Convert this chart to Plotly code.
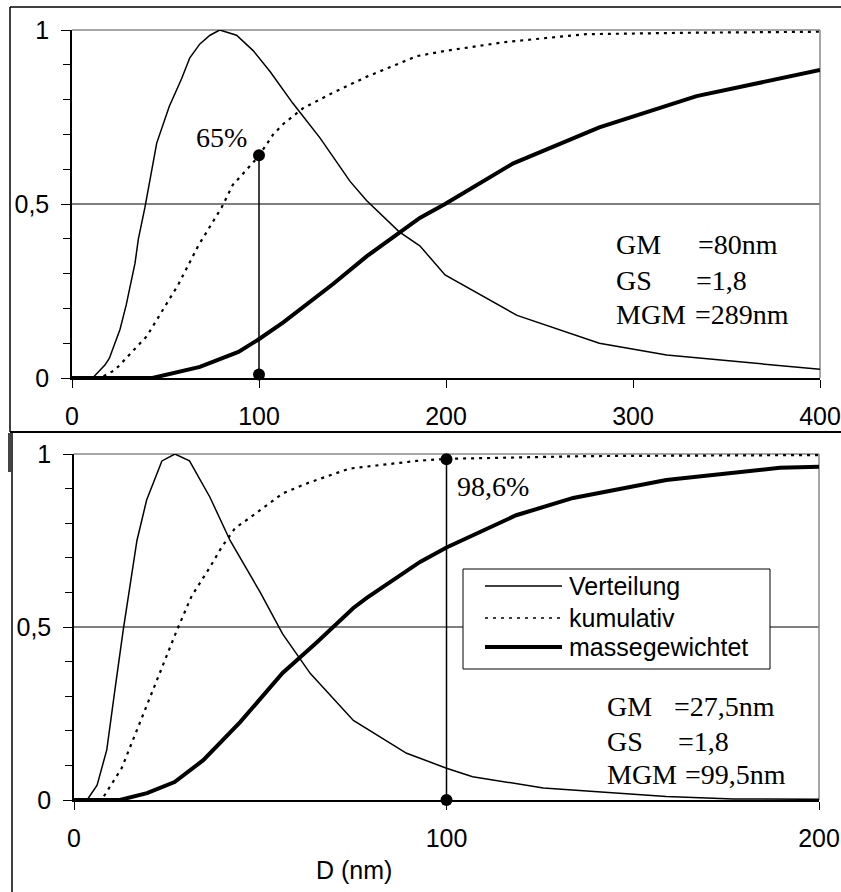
import plotly.graph_objects as go

W, H = 841, 892

# ---------------- data ----------------
# top panel: GM = 80 nm, GS = 1.8
top_vert_x = [0, 11, 17.6, 20, 25.7, 29, 33.7, 35.5, 39, 45.3, 52, 58.6, 63, 68.4, 73.8, 79,
              88, 97, 106, 118, 132.6, 148.7, 157.5, 175, 186, 199.5, 238, 282, 318, 364, 400]
top_vert_y = [0, 0, 0.037, 0.057, 0.14, 0.21, 0.33, 0.40, 0.49, 0.675, 0.78, 0.86, 0.92, 0.96, 0.985, 1.0,
              0.985, 0.94, 0.88, 0.79, 0.69, 0.565, 0.51, 0.42, 0.38, 0.296, 0.18, 0.10, 0.066, 0.042, 0.025]
top_cum_x = [0, 15, 23, 40, 57, 67.5, 80, 86, 99.5, 107.6, 113, 123.5, 139.6, 157.7, 184.5, 199.5,
             232.6, 275, 329, 400]
top_cum_y = [0, 0, 0.023, 0.12, 0.27, 0.38, 0.49, 0.555, 0.635, 0.70, 0.73, 0.775, 0.82, 0.866, 0.925, 0.94,
             0.966, 0.988, 0.992, 0.995]
top_mass_x = [0, 43, 68.4, 89, 99.5, 113, 139.6, 157.7, 186, 199.5, 236, 282, 334, 400]
top_mass_y = [0, 0, 0.032, 0.075, 0.11, 0.16, 0.27, 0.35, 0.46, 0.50, 0.617, 0.72, 0.81, 0.885]
top_marker_x = [100, 100]
top_marker_y = [0.01, 0.64]

# bottom panel: GM = 27.5 nm, GS = 1.8
bot_vert_x = [0, 3.5, 6.2, 8.8, 11, 13.2, 16.9, 19.5, 23.6, 27.1, 31, 36.5, 41.9, 50, 56, 63.4, 75,
              79.5, 89.3, 100, 107, 126, 159, 177, 200]
bot_vert_y = [0, 0, 0.043, 0.145, 0.32, 0.49, 0.75, 0.867, 0.98, 1.0, 0.98, 0.875, 0.75, 0.60, 0.48, 0.366, 0.23,
              0.20, 0.135, 0.092, 0.067, 0.035, 0.01, 0.003, 0.002]
bot_cum_x = [0, 7.4, 12.8, 17.2, 22.6, 27.6, 31.6, 36.5, 39.6, 43.2, 49, 56, 62.5, 74, 92, 100, 137.7, 200]
bot_cum_y = [0, 0, 0.092, 0.21, 0.355, 0.49, 0.59, 0.673, 0.73, 0.785, 0.83, 0.886, 0.915, 0.958, 0.98, 0.986,
             0.994, 0.997]
bot_mass_x = [0, 12.3, 19.6, 27, 34.7, 44.6, 56, 65, 75, 78.6, 92.9, 100, 118.7, 134, 159, 189.5, 200]
bot_mass_y = [0, 0, 0.02, 0.052, 0.115, 0.225, 0.367, 0.454, 0.555, 0.584, 0.688, 0.73, 0.823, 0.873,
              0.925, 0.96, 0.963]
bot_marker_x = [100, 100]
bot_marker_y = [0.0, 0.985]

top_xticks = [0, 100, 200, 300, 400]
bot_xticks = [0, 100, 200]
y_tickvals = [0, 0.5, 1]
y_ticktext = ["0", "0,5", "1"]

legend_names = ["Verteilung", "kumulativ", "massegewichtet"]
top_info = [("GM", "=80nm"), ("GS", "=1,8"), ("MGM", "=289nm")]
bot_info = [("GM", "=27,5nm"), ("GS", "=1,8"), ("MGM", "=99,5nm")]
top_pct = "65%"
bot_pct = "98,6%"


# ---------------- helpers ----------------
def px(x):
    return x / W


def py(y):
    return 1 - y / H


SANS = "Liberation Sans, Arial, sans-serif"
SERIF = "Liberation Serif, Times New Roman, serif"

THIN = dict(color="black", width=1.5)
DOT = dict(color="black", width=2.2, dash="3px,5px")
THICK = dict(color="black", width=4)

fig = go.Figure()


def add_panel(xa, ya, vx, vy, cx, cy, mx, my, markx, marky):
    fig.add_trace(go.Scatter(x=vx, y=vy, mode="lines", line=THIN, xaxis=xa, yaxis=ya,
                             name=legend_names[0], showlegend=False))
    fig.add_trace(go.Scatter(x=cx, y=cy, mode="lines", line=DOT, xaxis=xa, yaxis=ya,
                             name=legend_names[1], showlegend=False))
    fig.add_trace(go.Scatter(x=mx, y=my, mode="lines", line=THICK, xaxis=xa, yaxis=ya,
                             name=legend_names[2], showlegend=False))
    fig.add_trace(go.Scatter(x=markx, y=marky, mode="lines+markers", line=THIN,
                             marker=dict(size=12, color="black"), cliponaxis=False,
                             xaxis=xa, yaxis=ya, showlegend=False))


add_panel("x", "y", top_vert_x, top_vert_y, top_cum_x, top_cum_y, top_mass_x, top_mass_y,
          top_marker_x, top_marker_y)
add_panel("x2", "y2", bot_vert_x, bot_vert_y, bot_cum_x, bot_cum_y, bot_mass_x, bot_mass_y,
          bot_marker_x, bot_marker_y)

xcommon = dict(showline=True, linecolor="black", linewidth=1.5, ticks="outside", ticklen=8,
               tickcolor="black", tickwidth=1, showgrid=False, zeroline=False, automargin=False,
               tickfont=dict(family=SANS, size=25, color="black"), ticklabelstandoff=7)
ycommon = dict(showline=True, linecolor="black", linewidth=1.5, ticks="outside", ticklen=9,
               tickcolor="black", tickwidth=1, showgrid=False, zeroline=False, range=[0, 1],
               automargin=False, tickvals=y_tickvals, ticktext=y_ticktext,
               minor=dict(ticks="outside", dtick=0.1, ticklen=7, tickcolor="black", showgrid=False),
               tickfont=dict(family=SANS, size=25, color="black"), ticklabelstandoff=7)

top_dom_x = [px(72), px(820)]
top_dom_y = [py(378), py(30)]
bot_dom_x = [px(74), px(819)]
bot_dom_y = [py(800), py(454)]

fig.update_layout(
    template="none",
    width=W, height=H, margin=dict(l=0, r=0, t=0, b=0, pad=0), autosize=False,
    paper_bgcolor="white", plot_bgcolor="white", showlegend=False,
    xaxis=dict(domain=top_dom_x, anchor="y", range=[0, 400], tickvals=top_xticks, **xcommon),
    yaxis=dict(domain=top_dom_y, anchor="x", **ycommon),
    xaxis2=dict(domain=bot_dom_x, anchor="y2", range=[0, 200], tickvals=bot_xticks, **xcommon),
    yaxis2=dict(domain=bot_dom_y, anchor="x2", **ycommon),
)

shapes = []
# frames
shapes.append(dict(type="line", xref="paper", yref="paper", x0=px(10), x1=px(841), y0=py(7), y1=py(7),
                   line=dict(color="black", width=1.5)))
shapes.append(dict(type="line", xref="paper", yref="paper", x0=px(10), x1=px(10), y0=py(7), y1=py(432),
                   line=dict(color="black", width=1.5)))
shapes.append(dict(type="line", xref="paper", yref="paper", x0=px(10), x1=px(841), y0=py(432), y1=py(432),
                   line=dict(color="black", width=2)))
shapes.append(dict(type="line", xref="paper", yref="paper", x0=px(12), x1=px(12), y0=py(432), y1=py(892),
                   line=dict(color="black", width=1.5)))
shapes.append(dict(type="rect", xref="paper", yref="paper", x0=px(8), x1=px(11), y0=py(433), y1=py(472),
                   line=dict(width=0), fillcolor="#444"))

for xr, yr in (("x", "y"), ("x2", "y2")):
    # gridline at 0.5
    shapes.append(dict(type="line", xref=xr + " domain", yref=yr, x0=0, x1=1, y0=0.5, y1=0.5,
                       line=dict(color="black", width=1), layer="below"))
    # gray top and right border
    shapes.append(dict(type="line", xref=xr + " domain", yref=yr + " domain", x0=0, x1=1, y0=1, y1=1,
                       line=dict(color="#888", width=1.5), layer="below"))
    shapes.append(dict(type="line", xref=xr + " domain", yref=yr + " domain", x0=1, x1=1, y0=0, y1=1,
                       line=dict(color="#888", width=1.5), layer="below"))

# custom legend box
shapes.append(dict(type="rect", xref="paper", yref="paper", x0=px(463), x1=px(770), y0=py(669), y1=py(569),
                   line=dict(color="black", width=1), fillcolor="white", layer="above"))
leg_y = [586, 618, 647]
leg_lines = [THIN, dict(color="black", width=1.5, dash="3px,5px"), THICK]
for ly, ll in zip(leg_y, leg_lines):
    shapes.append(dict(type="line", xref="paper", yref="paper", x0=px(485), x1=px(562), y0=py(ly), y1=py(ly),
                       line=ll, layer="above"))
fig.update_layout(shapes=shapes)

ann = []
for name, ly in zip(legend_names, leg_y):
    ann.append(dict(xref="paper", yref="paper", x=px(567), y=py(ly), text=name, showarrow=False,
                    xanchor="left", yanchor="middle", font=dict(family=SANS, size=25, color="black")))

# info blocks
top_rows_y = [245, 280, 314]
top_val_x = [698, 696, 695]
for (lab, val), ry, vx in zip(top_info, top_rows_y, top_val_x):
    ann.append(dict(xref="paper", yref="paper", x=px(614), y=py(ry), text=lab, showarrow=False,
                    xanchor="left", yanchor="middle", font=dict(family=SERIF, size=28, color="black")))
    ann.append(dict(xref="paper", yref="paper", x=px(vx - 2), y=py(ry), text=val, showarrow=False,
                    xanchor="left", yanchor="middle", font=dict(family=SERIF, size=28, color="black")))
bot_rows_y = [706, 741, 774]
bot_val_x = [674, 678, 685]
for (lab, val), ry, vx in zip(bot_info, bot_rows_y, bot_val_x):
    ann.append(dict(xref="paper", yref="paper", x=px(605), y=py(ry), text=lab, showarrow=False,
                    xanchor="left", yanchor="middle", font=dict(family=SERIF, size=28, color="black")))
    ann.append(dict(xref="paper", yref="paper", x=px(vx - 2), y=py(ry), text=val, showarrow=False,
                    xanchor="left", yanchor="middle", font=dict(family=SERIF, size=28, color="black")))

ann.append(dict(xref="paper", yref="paper", x=px(221), y=py(137), text=top_pct, showarrow=False,
                xanchor="center", yanchor="middle", font=dict(family=SERIF, size=28, color="black")))
ann.append(dict(xref="paper", yref="paper", x=px(493), y=py(487), text=bot_pct, showarrow=False,
                xanchor="center", yanchor="middle", font=dict(family=SERIF, size=28, color="black")))
ann.append(dict(xref="paper", yref="paper", x=px(354), y=py(870), text="D (nm)", showarrow=False,
                xanchor="center", yanchor="middle", font=dict(family=SANS, size=25, color="black")))
fig.update_layout(annotations=ann)

fig.write_html("out.html")
